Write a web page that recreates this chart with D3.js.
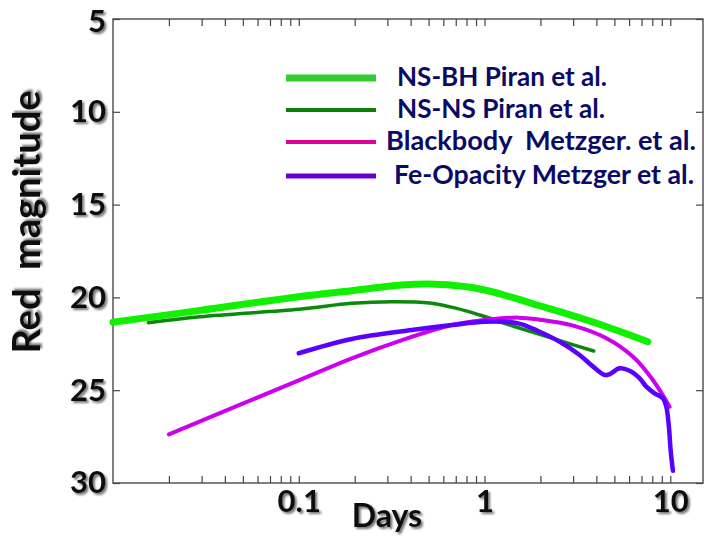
<!DOCTYPE html>
<html>
<head>
<meta charset="utf-8">
<script src="https://cdn.jsdelivr.net/npm/d3@7"></script>
<style>
  body { margin: 0; background: #fff; }
  text { font-family: Lato, "Open Sans", sans-serif; font-weight: bold; white-space: pre; }
</style>
</head>
<body>
<svg id="chart"></svg>
<script>
// light curves, days vs red magnitude
const nsbhDays = [0.01, 0.0295, 0.1, 0.193, 0.36, 0.59, 0.82, 1.0, 1.24, 1.98, 2.54, 4.27, 7.57];
const nsbhMag  = [21.34, 20.70, 19.96, 19.64, 19.33, 19.30, 19.44, 19.60, 19.84, 20.45, 20.77, 21.49, 22.39];

const nsnsDays = [0.0155, 0.0295, 0.1, 0.193, 0.318, 0.508, 0.707, 0.943, 1.42, 2.54, 3.87];
const nsnsMag  = [21.36, 21.04, 20.64, 20.32, 20.23, 20.30, 20.59, 20.95, 21.54, 22.33, 22.89];

const bbDays = [0.02, 0.1, 0.193, 0.36, 0.667, 1.0, 1.52, 1.98, 3.0, 4.53, 6.30, 8.06, 9.91];
const bbMag  = [27.38, 24.47, 23.28, 22.30, 21.49, 21.22, 21.09, 21.20, 21.52, 22.20, 23.20, 24.45, 25.89];

const feDays = [0.1, 0.193, 0.406, 0.667, 1.0, 1.52, 1.98, 2.54, 3.25, 3.84, 4.43, 4.72, 5.34, 6.04, 6.84, 7.43, 8.23, 9.13, 9.52, 9.83, 10.04, 10.33];
const feMag  = [23.01, 22.24, 21.76, 21.49, 21.31, 21.40, 21.85, 22.39, 23.10, 23.73, 24.18, 24.13, 23.82, 23.95, 24.36, 24.81, 25.17, 25.44, 25.89, 26.97, 28.22, 29.34];

const seriesNames = ['NS-BH Piran et al.', 'NS-NS Piran et al.', 'Blackbody  Metzger. et al.', 'Fe-Opacity Metzger et al.'];
const xTickLabels = [0.1, 1, 10];
const yTickValues = [5, 10, 15, 20, 25, 30];

const width = 704, height = 539;
const margin = {top: 19, right: 1, bottom: 56, left: 113};

const svg = d3.select('#chart').attr('width', width).attr('height', height);

const defs = svg.append('defs');
const shadow = defs.append('filter').attr('id', 'shadow')
  .attr('x', '-10%').attr('y', '-10%').attr('width', '130%').attr('height', '130%');
shadow.append('feDropShadow')
  .attr('dx', 2).attr('dy', 2).attr('stdDeviation', 1.2)
  .attr('flood-color', '#444').attr('flood-opacity', 0.75);

const x = d3.scaleLog().domain([0.01, 15]).range([margin.left, width - margin.right]);
const y = d3.scaleLinear().domain([5, 30]).range([margin.top, height - margin.bottom]);

// minor + major tick positions
let xTicks = [];
[0.01, 0.1, 1].forEach(dec => {
  for (let k = 1; k <= 9; k++) if (!(dec === 0.01 && k === 1)) xTicks.push(dec * k);
});
xTicks.push(10);

// frame
svg.append('rect')
  .attr('x', margin.left).attr('y', margin.top)
  .attr('width', width - margin.right - margin.left)
  .attr('height', height - margin.bottom - margin.top)
  .attr('fill', 'none').attr('stroke', '#555').attr('stroke-width', 1.5);

const fmtX = d => (xTickLabels.includes(+d.toPrecision(3)) ? String(+d.toPrecision(3)) : '');

svg.append('g')
  .attr('class', 'x-axis')
  .attr('transform', 'translate(0,' + (height - margin.bottom) + ')')
  .call(d3.axisBottom(x).tickValues(xTicks).tickSizeInner(-7).tickSizeOuter(0).tickPadding(7).tickFormat(fmtX));

svg.append('g')
  .attr('transform', 'translate(0,' + margin.top + ')')
  .call(d3.axisTop(x).tickValues(xTicks).tickSizeInner(-7).tickSizeOuter(0).tickFormat(''));

svg.append('g')
  .attr('class', 'y-axis')
  .attr('transform', 'translate(' + margin.left + ',0)')
  .call(d3.axisLeft(y).tickValues(yTickValues).tickSizeInner(-7).tickSizeOuter(0).tickPadding(7));

svg.append('g')
  .attr('transform', 'translate(' + (width - margin.right) + ',0)')
  .call(d3.axisRight(y).tickValues(yTickValues).tickSizeInner(-7).tickSizeOuter(0).tickFormat(''));

svg.selectAll('.domain').remove();
svg.selectAll('.tick line').attr('stroke', '#444').attr('stroke-width', 1.2);

svg.selectAll('.x-axis .tick text, .y-axis .tick text')
  .attr('fill', '#111')
  .style('font-size', '31px')
  .attr('filter', 'url(#shadow)');

// keep the top "5" inside the page
svg.selectAll('.y-axis .tick').filter(d => d === 5).select('text').attr('dy', '0.4em');

svg.append('text')
  .attr('x', 387).attr('y', 527)
  .attr('text-anchor', 'middle')
  .style('font-size', '32px')
  .attr('fill', '#111')
  .attr('filter', 'url(#shadow)')
  .text('Days');

svg.append('text')
  .attr('transform', 'translate(40,222) rotate(-90)')
  .attr('text-anchor', 'middle')
  .style('font-size', '38px')
  .attr('fill', '#111')
  .attr('filter', 'url(#shadow)')
  .text('Red  magnitude');

// curves
const series = [
  {days: nsbhDays, mag: nsbhMag, color: '#11f000', legend: '#33cc33', w: 7},
  {days: nsnsDays, mag: nsnsMag, color: '#0a8a0a', legend: '#0a800a', w: 3.5},
  {days: bbDays, mag: bbMag, color: '#cc00ee', legend: '#dd0099', w: 4},
  {days: feDays, mag: feMag, color: '#5a00ff', legend: '#6a00cc', w: 4.5}
];

const line = d3.line()
  .x(d => x(d[0]))
  .y(d => y(d[1]))
  .curve(d3.curveCatmullRom.alpha(0.5));

series.forEach(s => {
  svg.append('path')
    .datum(s.days.map((d, i) => [d, s.mag[i]]))
    .attr('d', line)
    .attr('fill', 'none')
    .attr('stroke', s.color)
    .attr('stroke-width', s.w)
    .attr('stroke-linecap', 'round')
    .attr('stroke-linejoin', 'round');
});

// legend
const legendY = [78, 110, 142, 176];
const legendTextX = [397, 397, 386, 394];
const legendTextW = [210, 208, 310, 300];
const legend = svg.append('g').attr('class', 'legend');
series.forEach((s, i) => {
  legend.append('line')
    .attr('x1', 286).attr('x2', 376)
    .attr('y1', legendY[i]).attr('y2', legendY[i])
    .attr('stroke', s.legend)
    .attr('stroke-width', i === 0 ? 7 : (i === 3 ? 5 : 4));
  legend.append('text')
    .attr('x', legendTextX[i])
    .attr('y', legendY[i] + 8)
    .attr('textLength', legendTextW[i])
    .attr('lengthAdjust', 'spacingAndGlyphs')
    .style('font-size', '26px')
    .attr('fill', '#0b0b66')
    .text(seriesNames[i]);
});
</script>
</body>
</html>
